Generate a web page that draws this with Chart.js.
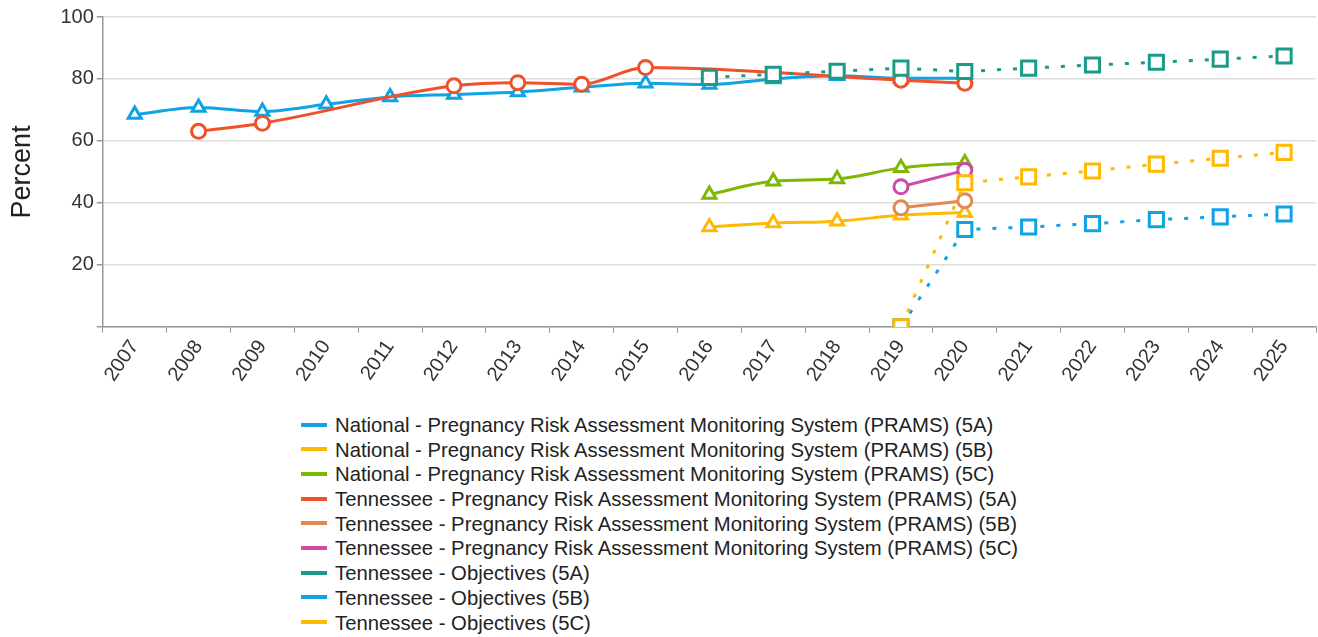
<!DOCTYPE html>
<html>
<head>
<meta charset="utf-8">
<script src="https://cdn.jsdelivr.net/npm/chart.js@4.4.1/dist/chart.umd.min.js"></script>
<style>
  html, body { margin: 0; padding: 0; background: #fff; }
  body { width: 1318px; height: 637px; overflow: hidden; position: relative; font-family: "Liberation Sans", Arial, sans-serif; }
  #wrap { position: relative; top: 2px; width: 1329px; height: 387px; }
  #legend { list-style: none; margin: 0; padding: 0; position: absolute; left: 301px; top: 413px; }
  #legend li { height: 24.7px; line-height: 24.7px; font-size: 20.3px; color: #222; white-space: nowrap; }
  #legend span.sw { display: inline-block; width: 26px; height: 4px; vertical-align: middle; margin-right: 8px; position: relative; top: -2px; }
</style>
</head>
<body>
<div id="wrap"><canvas id="chart"></canvas></div>
<ul id="legend"></ul>
<script>
const years = ['2007','2008','2009','2010','2011','2012','2013','2014','2015','2016','2017','2018','2019','2020','2021','2022','2023','2024','2025'];

// valores (null = sin dato)
const natPrams5A = [68.5, 70.8, 69.5, 71.8, 74.2, 75.0, 75.8, 77.3, 78.6, 78.2, 80.0, 81.0, 80.2, 80.2, null, null, null, null, null];
const natPrams5B = [null, null, null, null, null, null, null, null, null, 32.2, 33.5, 34.1, 36.0, 36.9, null, null, null, null, null];
const natPrams5C = [null, null, null, null, null, null, null, null, null, 42.7, 47.0, 47.7, 51.3, 52.9, null, null, null, null, null];
const tnPrams5A = [null, 63.1, 65.7, null, null, 77.8, 78.8, 78.3, 83.7, null, null, null, 79.6, 78.6, null, null, null, null, null];
const tnPrams5B = [null, null, null, null, null, null, null, null, null, null, null, null, 38.4, 40.7, null, null, null, null, null];
const tnPrams5C = [null, null, null, null, null, null, null, null, null, null, null, null, 45.2, 50.5, null, null, null, null, null];
const tnObj5A = [null, null, null, null, null, null, null, null, null, 80.5, 81.5, 82.5, 83.5, 82.4, 83.5, 84.5, 85.4, 86.4, 87.4];
const tnObj5B = [null, null, null, null, null, null, null, null, null, null, null, null, 0, 31.4, 32.2, 33.3, 34.6, 35.5, 36.4];
const tnObj5C = [null, null, null, null, null, null, null, null, null, null, null, null, 0, 46.5, 48.4, 50.3, 52.5, 54.4, 56.3];

const yTicks = [20, 40, 60, 80, 100];

const BLUE = '#0fa3e6', YELLOW = '#ffb900', GREEN = '#7cb900', RED = '#f0502a',
      TAN = '#e08a52', PINK = '#cc4aa8', TEAL = '#1a9a88';

function serie(label, data, color, shape, dotted) {
    return {
        label: label,
        data: data,
        borderColor: color,
        backgroundColor: '#fff',
        borderWidth: 3,
        borderDash: dotted ? [4, 12] : [],
        pointStyle: shape,
        pointRadius: shape === 'rect' ? 10 : (shape === 'triangle' ? 7.5 : 7),
        pointBorderWidth: 3,
        pointBackgroundColor: '#fff',
        pointBorderColor: color,
        spanGaps: true,
        tension: dotted ? 0 : 0.35,
        cubicInterpolationMode: dotted ? 'default' : 'monotone'
    };
}

const datasets = [
    serie('National - Pregnancy Risk Assessment Monitoring System (PRAMS) (5A)', natPrams5A, BLUE, 'triangle', false),
    serie('National - Pregnancy Risk Assessment Monitoring System (PRAMS) (5B)', natPrams5B, YELLOW, 'triangle', false),
    serie('National - Pregnancy Risk Assessment Monitoring System (PRAMS) (5C)', natPrams5C, GREEN, 'triangle', false),
    serie('Tennessee - Pregnancy Risk Assessment Monitoring System (PRAMS) (5A)', tnPrams5A, RED, 'circle', false),
    serie('Tennessee - Pregnancy Risk Assessment Monitoring System (PRAMS) (5B)', tnPrams5B, TAN, 'circle', false),
    serie('Tennessee - Pregnancy Risk Assessment Monitoring System (PRAMS) (5C)', tnPrams5C, PINK, 'circle', false),
    serie('Tennessee - Objectives (5A)', tnObj5A, TEAL, 'rect', true),
    serie('Tennessee - Objectives (5B)', tnObj5B, BLUE, 'rect', true),
    serie('Tennessee - Objectives (5C)', tnObj5C, YELLOW, 'rect', true)
];

// leyenda en columna, como en la imagen
const legendEl = document.getElementById('legend');
datasets.forEach(ds => {
    const li = document.createElement('li');
    const sw = document.createElement('span');
    sw.className = 'sw';
    sw.style.background = ds.borderColor;
    li.appendChild(sw);
    li.appendChild(document.createTextNode(ds.label));
    legendEl.appendChild(li);
});

Chart.defaults.font.family = '"Liberation Sans", Arial, sans-serif';
Chart.defaults.color = '#333';

new Chart(document.getElementById('chart'), {
    type: 'line',
    data: { labels: years, datasets: datasets.slice().reverse() },
    options: {
        responsive: true,
        maintainAspectRatio: false,
        animation: false,
        layout: { padding: { top: 10, right: 0, left: 6, bottom: 0 } },
        plugins: { legend: { display: false }, tooltip: { enabled: false } },
        scales: {
            x: {
                offset: true,
                grid: { display: true, drawOnChartArea: false, drawTicks: true, tickLength: 6, offset: true, color: '#999' },
                border: { color: '#999', width: 1.5 },
                ticks: { minRotation: 55, maxRotation: 55, font: { size: 20 }, color: '#333', padding: 3 }
            },
            y: {
                min: 0,
                max: 100,
                afterBuildTicks: axis => { axis.ticks = [0].concat(yTicks).map(v => ({ value: v })); },
                grid: { color: '#ddd', lineWidth: 1.5, tickLength: 6, tickColor: '#999' },
                border: { color: '#999', width: 1.5 },
                ticks: { font: { size: 20 }, color: '#333', padding: 3, callback: v => v === 0 ? '' : v },
                title: { display: true, text: 'Percent', font: { size: 27 }, color: '#222', padding: { top: 0, bottom: 19 } }
            }
        }
    }
});
</script>
</body>
</html>
